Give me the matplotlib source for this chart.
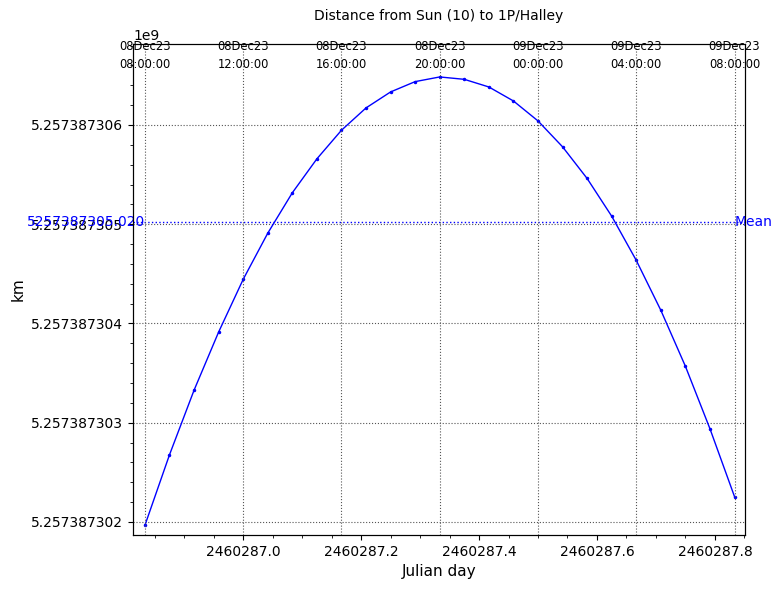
"""
Distance from Sun (10) to 1P/Halley, hourly samples over one day
"""
from datetime import datetime, timedelta

import matplotlib
matplotlib.use('Agg')
import matplotlib.pyplot as plt

# 儒略日 (hourly, 08Dec23 08:00 -> 09Dec23 08:00)
jd = [2460286.833333, 2460286.875000, 2460286.916667, 2460286.958333,
      2460287.000000, 2460287.041667, 2460287.083333, 2460287.125000,
      2460287.166667, 2460287.208333, 2460287.250000, 2460287.291667,
      2460287.333333, 2460287.375000, 2460287.416667, 2460287.458333,
      2460287.500000, 2460287.541667, 2460287.583333, 2460287.625000,
      2460287.666667, 2460287.708333, 2460287.750000, 2460287.791667,
      2460287.833333]

# 距离 km
dist_km = [5257387301.967, 5257387302.677, 5257387303.328, 5257387303.914,
           5257387304.445, 5257387304.910, 5257387305.317, 5257387305.659,
           5257387305.947, 5257387306.172, 5257387306.333, 5257387306.437,
           5257387306.484, 5257387306.460, 5257387306.383, 5257387306.242,
           5257387306.041, 5257387305.780, 5257387305.461, 5257387305.081,
           5257387304.636, 5257387304.133, 5257387303.569, 5257387302.939,
           5257387302.255]

# 平均值 (as printed on the chart)
MEAN_KM = 5257387305.020

TITLE = 'Distance from Sun (10) to 1P/Halley'


def jd_to_label(j):
    # JD 2451545.0 = 2000-01-01 12:00
    t = datetime(2000, 1, 1, 12) + timedelta(days=j - 2451545.0)
    t = t + timedelta(seconds=0.5)
    return t.strftime('%d%b%y\n%H:%M:%S')


fig = plt.figure(figsize=(7.82, 5.89), dpi=100)
ax = fig.add_axes([0.170, 0.0917, 0.783, 0.8336])

ax.plot(jd, dist_km, color='blue', lw=1, marker='.', ms=3)

# 平均线
ax.axhline(MEAN_KM, color='blue', linestyle=':', lw=1)
ax.text(jd[0], MEAN_KM, f'{MEAN_KM:.3f}', color='blue', ha='right', va='center', fontsize=10)
ax.text(jd[-1], MEAN_KM, 'Mean', color='blue', ha='left', va='center', fontsize=10)

ax.set_xlim(2460286.8130, 2460287.8515)
ax.set_ylim(5257387301.869, 5257387306.816)

ax.ticklabel_format(axis='x', useOffset=False, style='plain')
ax.ticklabel_format(axis='y', useOffset=False)
ax.minorticks_on()
ax.grid(axis='y', which='major', linestyle=':', color='#555555', lw=0.8)

ax.set_xlabel('Julian day', fontsize=11)
ax.set_ylabel('km', fontsize=11)

# 上方日期轴
ax2 = ax.twiny()
ax2.set_xlim(ax.get_xlim())
top_ticks = jd[::4]
ax2.set_xticks(top_ticks)
ax2.set_xticklabels([jd_to_label(j) for j in top_ticks], fontsize=8.3, va='center',
                    linespacing=1.45)
ax2.tick_params(axis='x', length=0, pad=-8.3)
ax2.grid(axis='x', linestyle=':', color='#555555', lw=0.8)

ax.set_title(TITLE, fontsize=10, y=1.0, pad=17)

fig.savefig('out.png', dpi=100)
